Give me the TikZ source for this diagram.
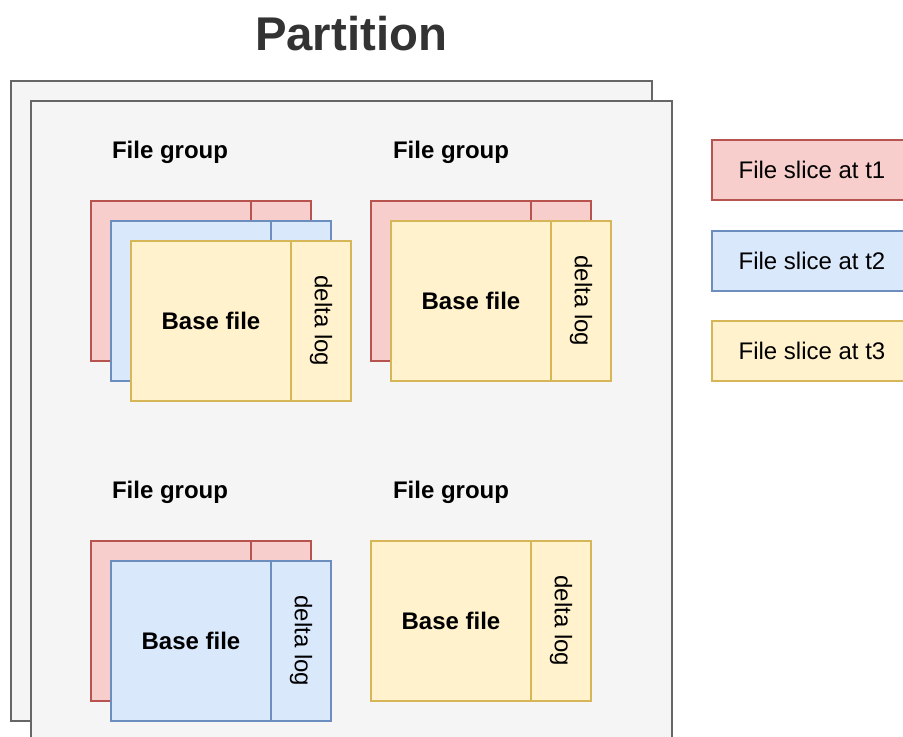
\documentclass[tikz,border=0pt]{standalone}
\usepackage{fontspec}
\setmainfont{Liberation Sans}
\usepackage{graphicx}
\usetikzlibrary{positioning}
\definecolor{pagefill}{HTML}{F5F5F5}
\definecolor{pageline}{HTML}{666666}
\definecolor{titlecol}{HTML}{333333}
\definecolor{redfill}{HTML}{F8CECC}
\definecolor{redline}{HTML}{B85450}
\definecolor{bluefill}{HTML}{DAE8FC}
\definecolor{blueline}{HTML}{6C8EBF}
\definecolor{yellowfill}{HTML}{FFF2CC}
\definecolor{yellowline}{HTML}{D6B656}
\tikzset{
  page/.style={draw=pageline,fill=pagefill,line width=1pt},
  title/.style={font=\bfseries\fontsize{35.5}{40}\selectfont,text=titlecol,inner sep=0pt},
  grouplbl/.style={font=\bfseries\fontsize{18}{21}\selectfont,anchor=base,inner sep=0pt},
  base/.style={draw,line width=1pt,outer sep=0pt,inner sep=0pt,anchor=north west,minimum width=120pt,minimum height=120pt,font=\bfseries\fontsize{18}{21}\selectfont},
  delta/.style={draw,line width=1pt,outer sep=0pt,inner sep=0pt,minimum width=45pt,minimum height=120pt,font=\fontsize{18}{21}\selectfont},
  legend/.style={draw,line width=1pt,outer sep=0pt,anchor=north west,minimum width=150pt,minimum height=45pt,font=\fontsize{18}{21}\selectfont},
  t1/.style={draw=redline,fill=redfill},
  t2/.style={draw=blueline,fill=bluefill},
  t3/.style={draw=yellowline,fill=yellowfill}
}

\begin{document}
\begin{tikzpicture}[x=0.75pt,y=-0.75pt]
\useasboundingbox (0,0) rectangle (903,736);
\clip (0,0) rectangle (903,736);
% partition (two stacked pages)
\draw[page] (11,81) rectangle (652,721);
\draw[page] (31,101) rectangle (672,760);
\node[title](title)at(351,34){Partition};
% file group labels
\node[grouplbl](lbl1)at(170,158){File group};
\node[grouplbl](lbl2)at(451,158){File group};
\node[grouplbl](lbl3)at(170,498){File group};
\node[grouplbl](lbl4)at(451,498){File group};
% group 1: slices t1, t2, t3
\node[base,t1](g1b1)at(91,201){};
\node[delta,t1,right=0pt of g1b1](g1d1){};
\node[base,t2](g1b2)at(111,221){};
\node[delta,t2,right=0pt of g1b2](g1d2){};
\node[base,t3](g1b3)at(131,241){Base file};
\node[delta,t3,right=0pt of g1b3](g1d3){\rotatebox{-90}{delta log}};
% group 2: slices t1, t3
\node[base,t1](g2b1)at(371,201){};
\node[delta,t1,right=0pt of g2b1](g2d1){};
\node[base,t3](g2b3)at(391,221){Base file};
\node[delta,t3,right=0pt of g2b3](g2d3){\rotatebox{-90}{delta log}};
% group 3: slices t1, t2
\node[base,t1](g3b1)at(91,541){};
\node[delta,t1,right=0pt of g3b1](g3d1){};
\node[base,t2](g3b2)at(111,561){Base file};
\node[delta,t2,right=0pt of g3b2](g3d2){\rotatebox{-90}{delta log}};
% group 4: slice t3 only
\node[base,t3](g4b3)at(371,541){Base file};
\node[delta,t3,right=0pt of g4b3](g4d3){\rotatebox{-90}{delta log}};
% legend
\node[legend,t1](leg1)at(712,140){File slice at t1};
\node[legend,t2](leg2)at(712,231){File slice at t2};
\node[legend,t3](leg3)at(712,321){File slice at t3};
\end{tikzpicture}
\end{document}
